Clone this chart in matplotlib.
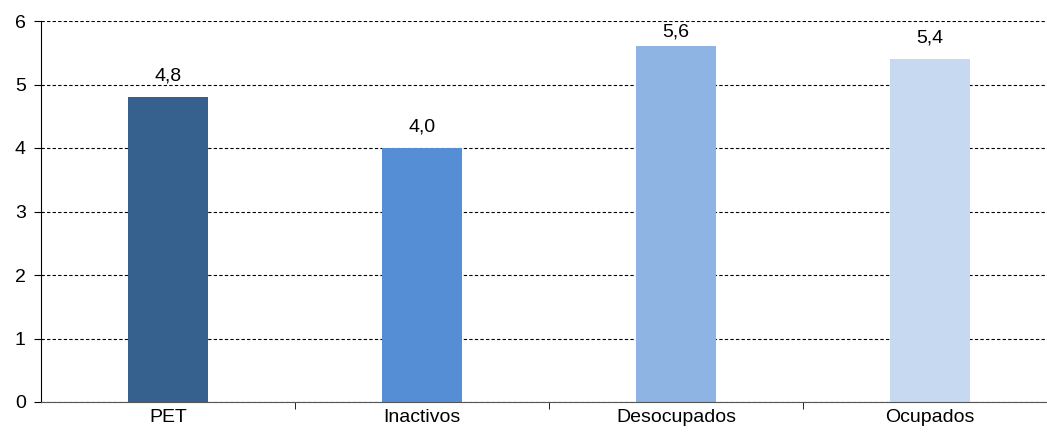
import matplotlib.pyplot as plt

plt.rcParams['font.family'] = ['Liberation Sans', 'DejaVu Sans']

categorias = ['PET', 'Inactivos', 'Desocupados', 'Ocupados']
valores = [4.8, 4.0, 5.6, 5.4]
colores = ['#36618F', '#558ED5', '#8EB4E3', '#C6D9F1']

fig = plt.figure(figsize=(10.47, 4.32), dpi=100)
ax = fig.add_axes([41 / 1047, 30 / 432, 1016 / 1047, 381 / 432])

x = list(range(len(categorias)))
barras = ax.bar(x, valores, width=0.315, color=colores, zorder=3)

for b, v in zip(barras, valores):
    # cerca del tope del eje la etiqueta se acerca a la barra
    desplaz = 4 if v > 5.5 else 9
    ax.annotate(f'{v:.1f}'.replace('.', ','),
                (b.get_x() + b.get_width() / 2, v),
                xytext=(0, desplaz), textcoords='offset points',
                ha='center', va='bottom', fontsize=14)

ax.set_ylim(0, 6)
ax.set_yticks(range(0, 7))
ax.set_xlim(-0.5, len(categorias) - 0.5)

# etiquetas centradas, marcas en los límites de cada categoría
ax.set_xticks(x)
ax.set_xticklabels(categorias, fontsize=14)
ax.set_xticks([i + 0.5 for i in x[:-1]], minor=True)
ax.tick_params(axis='x', which='major', length=0, pad=5)
ax.tick_params(axis='x', which='minor', length=5, direction='out', color='black')
ax.tick_params(axis='y', length=5, direction='out', labelsize=14, pad=6)

ax.yaxis.grid(True, linestyle=(0, (3, 2)), color='black', linewidth=0.8, zorder=0)
for s in ['top', 'right']:
    ax.spines[s].set_visible(False)
ax.spines['left'].set_color('black')
ax.spines['bottom'].set_color('#555555')
ax.spines['bottom'].set_zorder(4)

fig.savefig('out.png', dpi=100)
